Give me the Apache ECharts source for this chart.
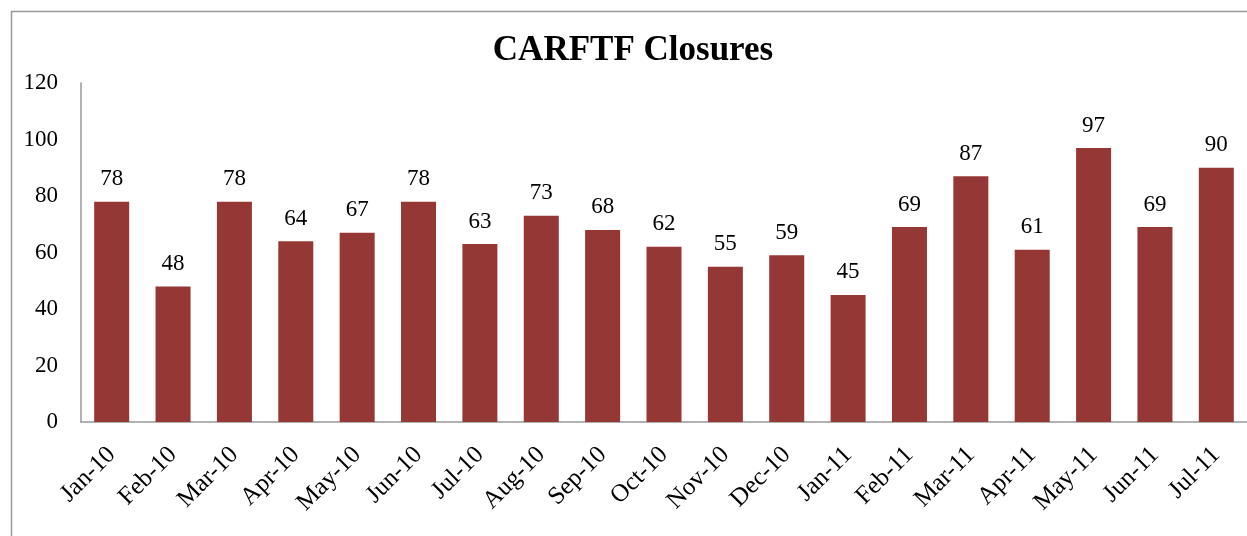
<!DOCTYPE html>
<html>
<head>
<meta charset="utf-8">
<script src="https://cdn.jsdelivr.net/npm/echarts@6/dist/echarts.min.js"></script>
<style>
html,body{margin:0;padding:0;background:#fff;}
#chart{width:1247px;height:536px;}
</style>
</head>
<body>
<div id="chart"></div>
<script>
const categories = ['Jan-10','Feb-10','Mar-10','Apr-10','May-10','Jun-10','Jul-10','Aug-10','Sep-10','Oct-10','Nov-10','Dec-10','Jan-11','Feb-11','Mar-11','Apr-11','May-11','Jun-11','Jul-11'];
const closures = [78,48,78,64,67,78,63,73,68,62,55,59,45,69,87,61,97,69,90];
const titleText = 'CARFTF Closures';

const chart = echarts.init(document.getElementById('chart'));
const serif = '"Liberation Serif", "Times New Roman", serif';
chart.setOption({
  animation: false,
  backgroundColor: '#fff',
  title: {
    text: titleText,
    left: 628, top: 28, textAlign: 'center',
    textStyle: { fontFamily: serif, fontSize: 35, fontWeight: 'bold', color: '#000' }
  },
  graphic: [{
    type: 'rect', left: 9, top: 9,
    shape: { width: 1260, height: 560 },
    style: { fill: 'none', stroke: '#999', lineWidth: 1.5 },
    silent: true
  }],
  grid: { left: 81, top: 83, right: -1, bottom: 114, containLabel: false },
  xAxis: {
    type: 'category',
    data: categories,
    axisLine: { lineStyle: { color: '#999', width: 1.5 } },
    axisTick: { show: false },
    axisLabel: { rotate: 45, interval: 0, margin: 29, fontFamily: serif, fontSize: 25, color: '#000' }
  },
  yAxis: {
    type: 'value', min: 0, max: 120, interval: 20,
    axisLine: { show: true, lineStyle: { color: '#999', width: 1.5 } },
    axisTick: { show: false },
    splitLine: { show: false },
    axisLabel: { margin: 23, fontFamily: serif, fontSize: 23, color: '#000' }
  },
  series: [{
    type: 'bar',
    data: closures,
    barWidth: 35,
    itemStyle: { color: '#953735' },
    label: { show: true, position: 'top', distance: 11, fontFamily: serif, fontSize: 23, color: '#000' }
  }]
});
</script>
</body>
</html>
